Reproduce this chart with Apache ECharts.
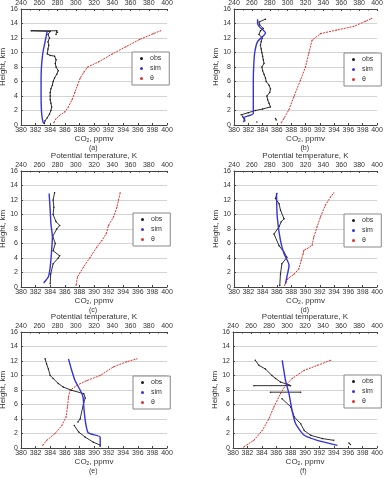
<!DOCTYPE html>
<html>
<head>
    <meta http-equiv="Content-Type" content="text/html; charset=utf-8">
    <title>CO2 profiles</title>
    <script src="https://cdn.jsdelivr.net/npm/echarts@6/dist/echarts.min.js"></script>
    <style>
        html, body { margin: 0; padding: 0; background: #fff; }
        #chart { width: 388px; height: 478px; }
    </style>
</head>
<body>
    <div id="chart"></div>
    <script type="text/javascript">
        // panel tags
        var panelTags = ['(a)', '(b)', '(c)', '(d)', '(e)', '(f)'];
        var seriesNames = ['obs', 'sim', 'θ'];
        var co2Ticks = { min: 380, max: 400, interval: 2 };
        var thetaTicks = { min: 240, max: 400, interval: 20 };
        var heightTicks = { min: 0, max: 16, interval: 2 };

        // [CO2 ppmv, height km] ; '-' breaks the line
        var obsA = [[383.2,0.2],[383.3,0.6],[383.6,1],[383.9,1.5],[384.1,2],[384.2,2.5],[384.1,3],[384.0,3.5],[384.0,4],[384.0,4.5],[384.1,5],[384.3,5.5],[384.4,6],[384.6,6.5],[384.9,7],[385.1,7.5],[384.8,8],[384.7,8.5],[384.8,9],[384.6,9.5],[384.0,9.6],[383.6,9.8],[383.7,10.5],[383.8,11],[383.7,11.5],[383.9,12],[383.7,12.5],[384.0,12.9],[381.4,13],[384.9,13],[385.0,12.8],[384.8,12.5]];
        var simA = [[383.1,0.2],[383.0,0.5],[382.9,1],[382.8,2],[382.75,4],[382.75,6],[382.8,8],[383.0,10],[383.3,11.5],[383.5,12.5],[383.6,13]];
        // [theta K, height km]
        var thA = [[276,0.3],[278,0.8],[282,1.3],[288,1.8],[292,2.5],[296,3.5],[299,4.5],[302,5.5],[305,6.5],[309,7.3],[313,8],[325,8.7],[340,9.8],[355,10.8],[370,11.8],[385,12.6],[393,13]];

        var obsB = [[383.2,0.4],'-',[385.8,0.9],[385.9,0.7],'-',[381.5,0.6],[381.2,1.2],'-',[381.0,1.4],[382.0,1.7],[383.0,2.0],[384.0,2.2],[385.1,2.5],[384.9,3],[384.7,3.5],[384.6,4],[385.0,4.5],[385.1,5],[384.9,5.5],[384.5,6],[384.4,6.5],[384.2,7],[384.0,7.5],[383.9,8],[384.2,8.5],[384.1,9],[384.0,9.5],[383.9,10],[383.8,10.5],[383.7,11],[383.8,11.5],[383.95,12],[383.5,12.5],[383.7,13],[384.1,13.3],[383.6,13.8],[383.5,14.2],[384.4,14.6]];
        var simB = [[381.3,0.4],[381.5,0.8],[381.3,1.0],[382.7,1.6],[382.7,4],[382.7,6],[382.75,8],[382.9,10],[383.3,11.5],[384.4,12.7],[383.6,13.5],[383.3,14],[383.3,14.6]];
        var thB = [[292.8,0.3],[295.8,0.9],[301.4,2.1],[307,3.9],[314.4,6.2],[320,8],[323.7,9.9],[327.4,11.7],[336.7,12.6],[355,13.1],[374,13.6],[387,14.3],[394,14.7]];

        var obsC = [[384.0,0.45],[384.07,1.8],[384.4,3.2],[385.1,4],[385.3,4.3],[384.4,5],[384.7,6],[384.35,7],[384.9,8],[385.3,8.5],[384.8,9],[384.4,10],[384.5,11],[384.4,12],[384.6,13]];
        var simC = [[383.1,0.55],[383.75,1.4],[384.0,2.75],[384.2,5.1],[384.3,6.9],[384.1,8.7],[384.0,10.6],[383.85,12.9]];
        var thC = [[300.4,0.25],[301.9,1.4],[308.5,2.75],[315.8,4.1],[323.1,5.5],[328.6,6.4],[333.4,7.35],[335.9,8.5],[341.4,9.65],[345.1,11],[346.9,12],[348.7,13]];

        var obsD = [[386.4,0.2],[386.5,1.8],[386.7,3.2],[387.4,4.1],[387.0,4.8],[386.3,5.7],[385.6,7.3],[386.3,8.3],[386.6,9],[387.0,9.4],[386.5,10.6],[386.3,11.5],[385.8,12.2],[386.0,12.9]];
        var simD = [[387.2,0.45],[387.4,1.4],[387.7,3],[387.0,4.6],[386.5,6.4],[386.05,9.65],[385.95,12.9]];
        var thD = [[296.6,0.23],[300.3,1.15],[307,1.75],[312.6,2.5],[315.2,3.7],[317.4,4.6],[318.1,5.06],[321.9,5.3],[327.4,5.75],[329.3,6.9],[333,8.3],[336.7,9.65],[342.3,11.3],[347.9,12.4],[351.6,12.97]];

        var obsE = [[390.85,0.4],[389.9,0.8],[388.8,1.5],[387.9,2.2],[387.3,3.1],'-',[387.8,3.6],[388.1,4],[388.6,6.3],[388.8,6.9],[388.6,7.5],[386.95,7.95],[385.8,8.4],[385.1,8.9],[384.4,9.6],[384.0,10],[383.75,10.9],[383.5,11.6],[383.3,12.3]];
        var simE = [[390.85,0.15],[390.85,1.5],[389.2,2.1],[388.8,3.8],[388.6,5.7],[388.5,7],[388.1,8],[387.4,9.3],[386.95,10.7],[386.5,12.3]];
        var thE = [[263.8,0.37],[268.2,1.06],[277.3,2],[284.7,3.1],[289.4,4.3],[290.9,5.65],[292,7],[293.8,7.95],[301.2,8.65],[312.1,9.3],[326.8,10],[341.4,11.2],[356,11.9],[367,12.3]];

        var obsF = [[383.1,12.1],[383.6,11.4],[384.5,10.9],[385.4,10],[385.9,9.6],[386.6,9.1],[387.8,8.7],'-',[382.9,8.6],[388.0,8.6],'-',[385.2,7.7],[389.4,7.7],'-',[386.8,6.8],[388.0,5.7],[388.5,4.3],[389.4,3.35],[389.9,2.4],[390.8,1.75],[392.4,1.3],[394.0,1.06],'-',[396.1,0.7],[396.3,0.5]];
        var simF = [[386.84,12.1],[387.3,9.3],[387.77,7.5],[388.2,5.2],[388.7,3.35],[389.9,1.75],[391.7,1.06],[394.5,0.37]];
        var thF = [[251.9,0.14],[263.1,1.06],[272.4,2.4],[279.8,4],[285.4,5.65],[292.8,7.5],[298.4,8.65],[305.9,9.6],[318.9,10.7],[333.8,11.4],[348.6,12.1]];

        var obsAll = [obsA, obsB, obsC, obsD, obsE, obsF];
        var simAll = [simA, simB, simC, simD, simE, simF];
        var thAll = [thA, thB, thC, thD, thE, thF];

        var boxes = [
            { left: 21, top: 9, width: 146, height: 116 },
            { left: 234, top: 9, width: 143, height: 116 },
            { left: 21, top: 171, width: 146, height: 116 },
            { left: 234, top: 171, width: 143, height: 116 },
            { left: 21, top: 332, width: 146, height: 116 },
            { left: 233, top: 332, width: 144, height: 116 }
        ];
        var legendPos = [[132, 52], [344, 53], [133, 213], [344, 214], [133, 376], [344, 375]];

        var font = 'Liberation Sans';
        var axisCol = '#444';
        var labelStyle = { fontSize: 7, color: '#333', fontFamily: font };

        var grids = [], xAxes = [], yAxes = [], series = [], legends = [], texts = [];
        for (var i = 0; i < 6; i++) {
            var b = boxes[i];
            grids.push({ left: b.left, top: b.top, width: b.width, height: b.height, containLabel: false, outerBoundsMode: 'none' });
            xAxes.push({
                gridIndex: i, type: 'value', position: 'bottom',
                min: co2Ticks.min, max: co2Ticks.max, interval: co2Ticks.interval,
                name: 'CO{s|2}, ppmv', nameLocation: 'middle', nameGap: 9,
                nameTextStyle: { fontSize: 8, color: '#333', fontFamily: font, rich: { s: { fontSize: 5, padding: [4, 0, 0, 0], color: '#333' } } },
                axisLine: { lineStyle: { color: axisCol, width: 1 } },
                axisTick: { inside: true, length: 2, lineStyle: { color: axisCol } },
                axisLabel: Object.assign({ margin: 2 }, labelStyle),
                splitLine: { show: false }
            });
            xAxes.push({
                gridIndex: i, type: 'value', position: 'top',
                min: thetaTicks.min, max: thetaTicks.max, interval: thetaTicks.interval,
                name: 'Potential temperature, K', nameLocation: 'middle', nameGap: 11,
                nameTextStyle: { fontSize: 8, color: '#333', fontFamily: font },
                axisLine: { onZero: false, lineStyle: { color: axisCol, width: 1 } },
                axisTick: { inside: true, length: 2, lineStyle: { color: axisCol } },
                minorTick: { show: true, splitNumber: 2, length: 1.5, lineStyle: { color: axisCol } },
                axisLabel: Object.assign({ margin: 2 }, labelStyle),
                splitLine: { show: false }
            });
            yAxes.push({
                gridIndex: i, type: 'value',
                min: heightTicks.min, max: heightTicks.max, interval: heightTicks.interval,
                name: 'Height, km', nameLocation: 'middle', nameGap: 12,
                nameTextStyle: { fontSize: 8, color: '#333', fontFamily: font },
                axisLine: { show: true, lineStyle: { color: axisCol, width: 1 } },
                axisTick: { show: true, inside: true, length: 2, lineStyle: { color: axisCol } },
                axisLabel: Object.assign({ margin: 3 }, labelStyle),
                splitLine: { show: true, lineStyle: { color: '#d4d4d4', width: 1 } }
            });
            series.push({
                name: 'obs', type: 'line', xAxisIndex: 2 * i, yAxisIndex: i,
                data: obsAll[i], symbol: 'circle', symbolSize: 1.5, showSymbol: true,
                itemStyle: { color: '#1a1a1a' }, lineStyle: { color: '#1a1a1a', width: 0.9 },
                connectNulls: false, animation: false, z: 3
            });
            series.push({
                name: 'sim', type: 'line', xAxisIndex: 2 * i, yAxisIndex: i,
                data: simAll[i], symbol: 'none', smooth: 0.2,
                itemStyle: { color: '#3434d8' }, lineStyle: { color: '#3434d8', width: 1.4 },
                animation: false, z: 4
            });
            series.push({
                name: 'θ', type: 'line', xAxisIndex: 2 * i + 1, yAxisIndex: i,
                data: thAll[i], symbol: 'circle', symbolSize: 1.2, showSymbol: true,
                itemStyle: { color: '#e0312c' }, lineStyle: { color: '#e0312c', width: 1, type: [2, 1] },
                animation: false, z: 2
            });
            legends.push({
                data: [
                    { name: 'obs', itemStyle: { color: '#1a1a1a' } },
                    { name: 'sim', itemStyle: { color: '#3434d8' } },
                    { name: 'θ', itemStyle: { color: '#e0312c' } }
                ],
                orient: 'vertical', left: legendPos[i][0], top: legendPos[i][1],
                icon: 'circle', itemWidth: 3, itemHeight: 3, itemGap: 3,
                padding: [3, 8, 3, 8], borderColor: '#888', borderWidth: 1,
                backgroundColor: '#fff', selectedMode: false,
                textStyle: { fontSize: 7, color: '#333', fontFamily: font, padding: [0, 0, 0, 2] }
            });
            texts.push({
                type: 'text', left: b.left + b.width / 2 - 5, top: b.top + b.height + 20,
                style: { text: panelTags[i], fontSize: 7, fill: '#333', fontFamily: font }
            });
        }

        var chart = echarts.init(document.getElementById('chart'));
        chart.setOption({
            animation: false,
            grid: grids,
            xAxis: xAxes,
            yAxis: yAxes,
            legend: legends,
            series: series,
            graphic: texts
        });
    </script>
</body>
</html>
